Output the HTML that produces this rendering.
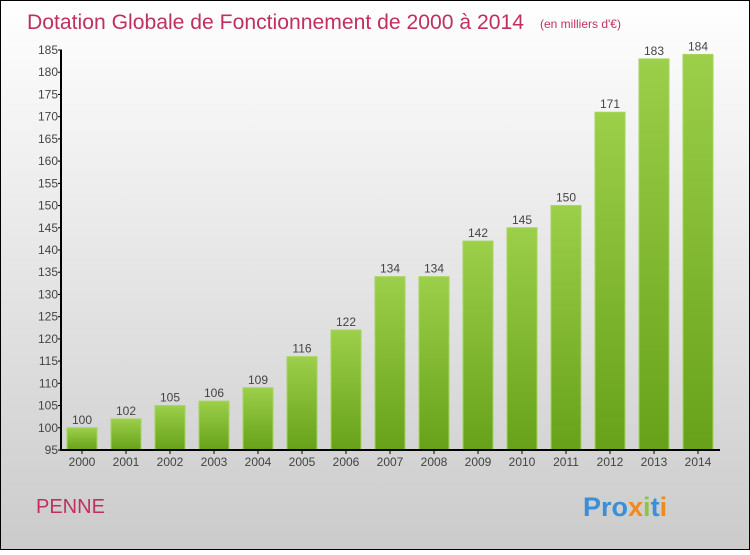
<!DOCTYPE html>
<html><head><meta charset="utf-8"><style>
html,body{margin:0;padding:0}
body{width:750px;height:550px;overflow:hidden;font-family:"Liberation Sans",sans-serif}
</style></head><body>
<svg id="chart" width="750" height="550" xmlns="http://www.w3.org/2000/svg">
<defs>
<linearGradient id="bg" x1="0" y1="0" x2="0" y2="1"><stop offset="0" stop-color="#ffffff"/><stop offset="1" stop-color="#cbcbcb"/></linearGradient>
<linearGradient id="bar" x1="0" y1="0" x2="0" y2="1"><stop offset="0" stop-color="#9ccf4a"/><stop offset="1" stop-color="#67a11a"/></linearGradient>
</defs>
<rect x="0.5" y="0.5" width="749" height="549" fill="url(#bg)" stroke="#000"/>
<text x="27" y="29" font-size="21" fill="#c0305f" textLength="497" lengthAdjust="spacingAndGlyphs">Dotation Globale de Fonctionnement de 2000 à 2014</text>
<text x="540" y="28" font-size="12" fill="#c0305f">(en milliers d'€)</text>
<text x="36" y="513" font-size="20" fill="#c0305f">PENNE</text>
<g font-size="27" font-weight="bold" font-family="Liberation Sans, sans-serif">
<text x="583" y="516"><tspan fill="#3a8fd6">Pro</tspan><tspan fill="#f08a1c">x</tspan><tspan fill="#8cc63f">i</tspan><tspan fill="#3a8fd6">t</tspan><tspan fill="#f08a1c">i</tspan></text>
</g>
<g id="plot"></g>
</svg>
<script>
const years=["2000","2001","2002","2003","2004","2005","2006","2007","2008","2009","2010","2011","2012","2013","2014"];
const values=[100,102,105,106,109,116,122,134,134,142,145,150,171,183,184];
const yTicks=[95,100,105,110,115,120,125,130,135,140,145,150,155,160,165,170,175,180,185];
const NS="http://www.w3.org/2000/svg";
const g=document.getElementById('plot');
const yMin=95,yMax=185,yTop=50,yBot=450;
function y(v){return yBot-(v-yMin)/(yMax-yMin)*(yBot-yTop);}
function x(i){return 82+i*44;}
function el(t,a,txt){const e=document.createElementNS(NS,t);for(const k in a)e.setAttribute(k,a[k]);if(txt!==undefined)e.textContent=txt;g.appendChild(e);return e;}
values.forEach((v,i)=>{
  const r=el('rect',{x:x(i)-15,y:y(v),width:30,height:yBot-y(v),fill:'url(#bar)',stroke:'#a6d45c','stroke-width':1});
  
  
  const t=el('text',{x:x(i),y:y(v)-4,'text-anchor':'middle','font-size':12,fill:'#444'},String(v));
  
  
  const xl=el('text',{x:x(i),y:466,'text-anchor':'middle','font-size':12,fill:'#444'},years[i]);
  
  
  const xt=el('line',{x1:x(i),x2:x(i),y1:yBot,y2:yBot+4,stroke:'#000'});
  
  
});
yTicks.forEach(v=>{
  const l=el('line',{x1:58,x2:62,y1:y(v),y2:y(v),stroke:'#000'});
  
  
  const t=el('text',{x:58,y:y(v)+4,'text-anchor':'end','font-size':12,fill:'#444'},String(v));
  
  
});
const ya=el('line',{x1:61,x2:61,y1:yTop,y2:yBot+1,stroke:'#000','stroke-width':2});


const xa=el('line',{x1:60,x2:720,y1:yBot,y2:yBot,stroke:'#000','stroke-width':2});


</script>
</body></html>
